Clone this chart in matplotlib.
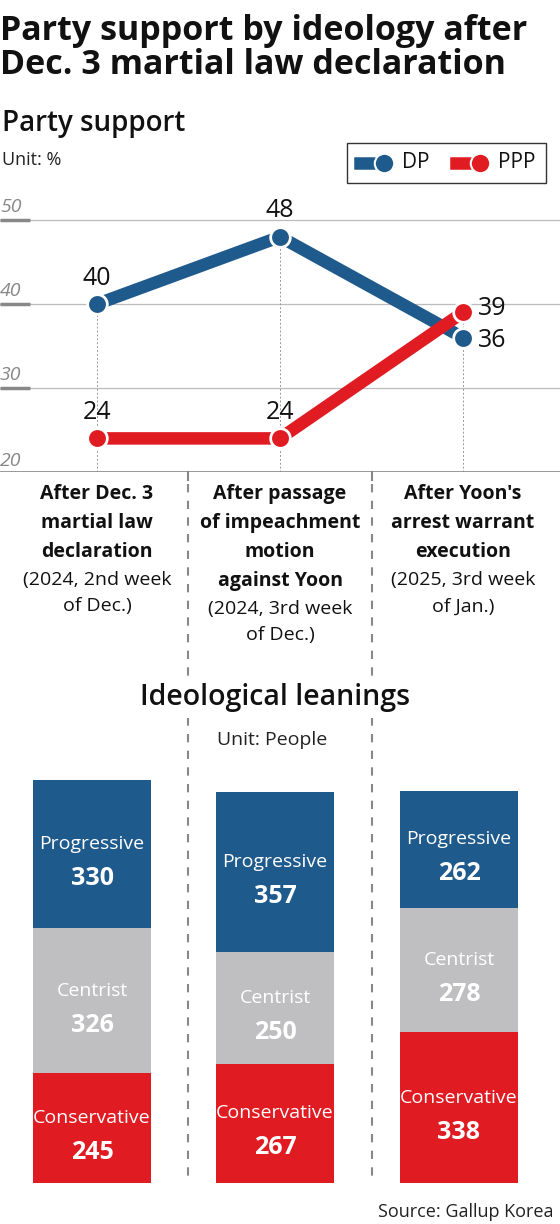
import matplotlib
matplotlib.use('Agg')
import matplotlib.pyplot as plt
from matplotlib.lines import Line2D
from matplotlib.patches import Rectangle

plt.rcParams['font.family'] = ['Open Sans', 'DejaVu Sans']

periods = ["After Dec. 3\nmartial law\ndeclaration", "After passage\nof impeachment\nmotion\nagainst Yoon", "After Yoon's\narrest warrant\nexecution"]
period_notes = ["(2024, 2nd week\nof Dec.)", "(2024, 3rd week\nof Dec.)", "(2025, 3rd week\nof Jan.)"]
dp = [40, 48, 36]
ppp = [24, 24, 39]
progressive = [330, 357, 262]
centrist = [326, 250, 278]
conservative = [245, 267, 338]

BLUE = '#1f5a8c'
RED = '#e01b22'
GRAY = '#bfbfc1'
W, H = 560, 1224

fig = plt.figure(figsize=(5.6, 12.24), dpi=100)

def fy(y):
    return 1 - y / H

def ftext(x, y, s, **kw):
    fig.text(x / W, fy(y), s, **kw)

ftext(0, 14, "Party support by ideology after\nDec. 3 martial law declaration", fontsize=24.5, fontweight='bold',
      va='top', ha='left', linespacing=1.0, color='#111111')
ftext(2, 124, "Party support", fontsize=20, fontweight='semibold', va='center', color='#111111')
ftext(2, 160, "Unit: %", fontsize=13, va='center', color='#222222')

# line chart
ax = fig.add_axes([0, fy(472), 1, (472 - 192) / H])
ax.set_xlim(-97 / 183, (560 - 97) / 183)
ax.set_ylim(20, 20 + 280 / 8.4)
ax.axis('off')
for g in [30, 40, 50]:
    ax.axhline(g, color='#bbbbbb', lw=0.9, zorder=0)
    ax.plot([-97 / 183, -67 / 183], [g, g], color='#888888', lw=2.5, solid_capstyle='butt', zorder=1)
    ax.text(-97 / 183, g + 0.5, str(g), fontsize=14, style='italic', color='#888888', va='bottom')
ax.text(-97 / 183, 20.2, "20", fontsize=14, style='italic', color='#888888', va='bottom')
ax.axhline(20, color='#888888', lw=1.2, zorder=1)
xs = list(range(len(dp)))
for x in xs:
    ax.plot([x, x], [20, max(dp[x], ppp[x])], color='#999999', lw=0.7, ls=(0, (2, 2)), zorder=0)
ax.plot(xs, dp, color=BLUE, lw=9, zorder=2)
ax.plot(xs, ppp, color=RED, lw=9, zorder=2)
ax.scatter(xs, dp, s=200, color=BLUE, edgecolor='white', linewidth=2, zorder=3)
ax.scatter(xs, ppp, s=200, color=RED, edgecolor='white', linewidth=2, zorder=3)
for i in range(2):
    ax.text(xs[i], dp[i] + 1.6, str(dp[i]), ha='center', va='bottom', fontsize=18, color='#111111')
    ax.text(xs[i], ppp[i] + 1.6, str(ppp[i]), ha='center', va='bottom', fontsize=18, color='#111111')
ax.text(xs[2] + 0.08, ppp[2] + 0.5, str(ppp[2]), ha='left', va='center', fontsize=18, color='#111111')
ax.text(xs[2] + 0.08, dp[2] - 0.3, str(dp[2]), ha='left', va='center', fontsize=18, color='#111111')

# legend
fig.patches.append(Rectangle((347 / W, fy(183)), 199 / W, 40 / H, transform=fig.transFigure,
                             fill=False, edgecolor='#333333', lw=1))
for lx, c, lab in [(360, BLUE, "DP"), (456, RED, "PPP")]:
    fig.lines.append(Line2D([lx / W, (lx + 22) / W], [fy(163)] * 2, transform=fig.transFigure, color=c, lw=9))
    fig.lines.append(Line2D([(lx + 24) / W], [fy(163)], transform=fig.transFigure, marker='o', ms=14, color=c,
                            mec='white', mew=1.5))
    ftext(lx + 42, 163, lab, fontsize=15, va='center', color='#111111')

# period labels
cx = [97, 280, 463]
for i in range(3):
    nlines = periods[i].count('\n') + 1
    ftext(cx[i], 484, periods[i], fontsize=14, fontweight='bold', ha='center', va='top', linespacing=1.6,
          color='#111111')
    ftext(cx[i], 484 + nlines * 29, period_notes[i], fontsize=14, ha='center', va='top', linespacing=1.6,
          color='#111111')

# separators
for sx in [188, 372]:
    fig.lines.append(Line2D([sx / W] * 2, [fy(472), fy(480)], transform=fig.transFigure, color='#888888', lw=1.5))
    fig.lines.append(Line2D([sx / W] * 2, [fy(484), fy(1180)], transform=fig.transFigure, color='#888888',
                            lw=1.5, ls=(0, (4, 4))))

ftext(275, 698, "Ideological leanings", fontsize=20.5, fontweight='semibold', ha='center', va='center',
      color='#111111', bbox=dict(facecolor='white', edgecolor='none', pad=4))
ftext(272, 740, "Unit: People", fontsize=14, ha='center', va='center', color='#222222',
      bbox=dict(facecolor='white', edgecolor='none', pad=2))

# stacked bars
bx = fig.add_axes([0, fy(1183), 1, (1183 - 700) / H])
bx.set_xlim(0, W)
bx.set_ylim(0, 483 / 0.447)
bx.axis('off')
bar_x = [92, 275, 459]
bx.bar(bar_x, conservative, width=118, color=RED)
bx.bar(bar_x, centrist, width=118, bottom=conservative, color=GRAY)
bx.bar(bar_x, progressive, width=118, bottom=[a + b for a, b in zip(conservative, centrist)], color=BLUE)
for i in range(3):
    segs = [(conservative[i], 0, "Conservative"),
            (centrist[i], conservative[i], "Centrist"),
            (progressive[i], conservative[i] + centrist[i], "Progressive")]
    for val, bot, name in segs:
        mid = bot + val / 2
        bx.text(bar_x[i], mid + 22, name, ha='center', va='center', fontsize=14, color='white')
        bx.text(bar_x[i], mid - 55, str(val), ha='center', va='center', fontsize=18, fontweight='bold',
                color='white')

ftext(553, 1212, "Source: Gallup Korea", fontsize=13, ha='right', va='center', color='#222222')

fig.savefig('out.png', dpi=100)
